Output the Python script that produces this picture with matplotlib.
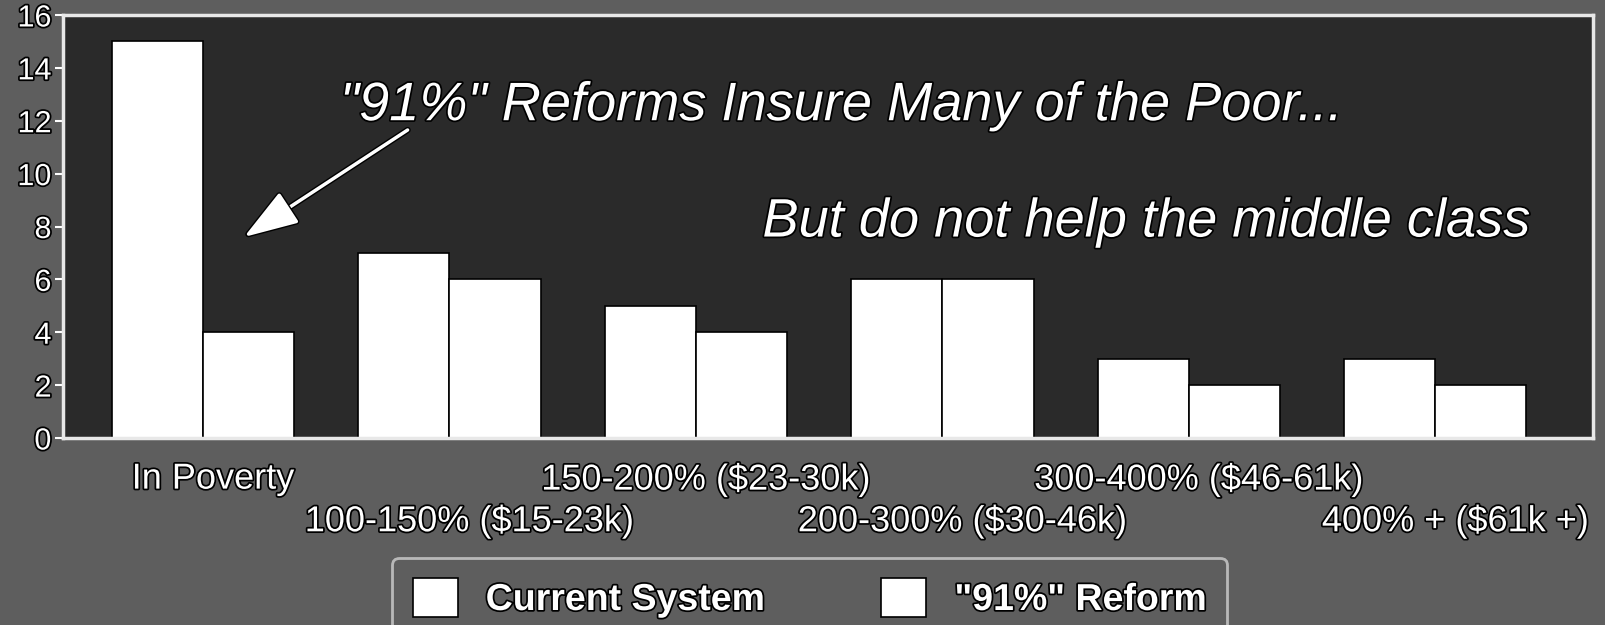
import numpy as np
import matplotlib.pyplot as plt
import matplotlib.patheffects as pe
from matplotlib.transforms import ScaledTranslation

groups = ['In Poverty', '100-150% ($15-23k)', '150-200% ($23-30k)',
          '200-300% ($30-46k)', '300-400% ($46-61k)', '400% + ($61k +)']
current = [15, 7, 5, 6, 3, 3]
reform = [4, 6, 4, 6, 2, 2]
yticks = [0, 2, 4, 6, 8, 10, 12, 14, 16]

outer = '#5e5e5e'
inner = '#2a2a2a'
outline = [pe.withStroke(linewidth=2.5, foreground='black')]

plt.rcParams['font.family'] = ['Liberation Sans', 'DejaVu Sans']

fig = plt.figure(figsize=(16.05, 6.25), dpi=100, facecolor=outer)
ax = fig.add_axes([0.039, 0.2992, 0.9535, 0.6768], facecolor=inner)

x = np.arange(len(groups))
w = 0.37
ax.bar(x - w / 2, current, w, color='white', edgecolor='black', lw=1.2,
       label='Current System')
ax.bar(x + w / 2, reform, w, color='white', edgecolor='black', lw=1.2,
       label='"91%" Reform')

ax.set_xlim(-0.57, 5.64)
ax.set_ylim(0, 16)
ax.set_yticks(yticks)
ax.set_yticklabels([str(v) for v in yticks], fontsize=22, color='white',
                   path_effects=outline)
ax.tick_params(axis='y', colors='white', length=6, width=1.5, pad=2)

# category names alternate between two rows: major ticks on top, minor below
ax.set_xticks(x[::2])
ax.set_xticklabels(groups[::2], fontsize=26, color='white', path_effects=outline)
ax.set_xticks(x[1::2], minor=True)
ax.set_xticklabels(groups[1::2], minor=True, fontsize=26, color='white',
                   path_effects=outline)
ax.tick_params(axis='x', which='major', length=0, pad=17)
ax.tick_params(axis='x', which='minor', length=0, pad=47)
shift = ScaledTranslation(0.2, 0, fig.dpi_scale_trans)
for lbl in ax.get_xticklabels(minor=True):
    lbl.set_transform(lbl.get_transform() + shift)
shift_top = ScaledTranslation(0.1, 0, fig.dpi_scale_trans)
for lbl in ax.get_xticklabels():
    lbl.set_transform(lbl.get_transform() + shift_top)

for s in ax.spines.values():
    s.set_color('#e8e8e8')
    s.set_linewidth(2.5)

ax.text(0.555, 12.55, '"91%" Reforms Insure Many of the Poor...', fontsize=39,
        style='italic', color='white', va='center', ha='left',
        path_effects=outline)
ax.annotate('', xy=(0.166, 7.6), xytext=(0.83, 11.65),
            arrowprops=dict(arrowstyle='-|>,head_length=1.35,head_width=0.45',
                            mutation_scale=25, facecolor='white',
                            edgecolor='white', lw=2.5, shrinkA=0, shrinkB=0,
                            path_effects=[pe.withStroke(linewidth=4.5,
                                                        foreground='black')]))
ax.text(2.27, 8.15, 'But do not help the middle class', fontsize=39,
        style='italic', color='white', va='center', ha='left',
        path_effects=outline)

leg = fig.legend(loc='upper left', bbox_to_anchor=(0.2442, 0.108), ncol=2,
                 frameon=True, facecolor=outer, edgecolor='#d0d0d0',
                 fontsize=27, handlelength=1.2, handleheight=1.2,
                 columnspacing=3.1, borderpad=0.55, handletextpad=0.75,
                 borderaxespad=0)
for t in leg.get_texts():
    t.set_color('white')
    t.set_fontweight('bold')
    t.set_path_effects(outline)
leg.get_frame().set_linewidth(2)

fig.savefig('out.png', dpi=100, facecolor=outer)
